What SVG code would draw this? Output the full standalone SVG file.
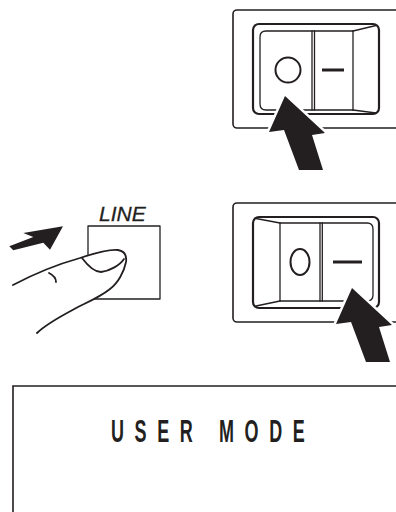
<svg xmlns="http://www.w3.org/2000/svg" width="396" height="512" viewBox="0 0 396 512">
  <style>
    .bezel { fill: #fff; stroke: #231f20; stroke-width: 1.6; }
    .frame { fill: none; stroke: #231f20; stroke-width: 2.2; }
    .thin { fill: none; stroke: #231f20; stroke-width: 1.3; stroke-linecap: round; stroke-linejoin: round; }
    .mark { fill: none; stroke: #231f20; stroke-width: 2; }
    .dash { stroke: #231f20; stroke-width: 3; }
    .push { fill: #231f20; stroke: #fff; stroke-width: 5; paint-order: stroke; stroke-linejoin: miter; }
    .skin { fill: none; stroke: #231f20; stroke-width: 1.8; stroke-linecap: round; stroke-linejoin: round; }
    .label { font-family: "Liberation Sans", Arial, sans-serif; fill: #231f20; }
  </style>
  <defs>
    <!-- push arrow, tip at the origin -->
    <path id="pushArrow" d="M0,0 L-16,36 L-1,34 L14,74 L38,74 L27,39 L40,37 Z"/>
  </defs>
  <rect width="396" height="512" fill="#fff"/>

  <!-- rocker switch, "O" side pressed -->
  <g id="switch-off">
    <rect class="bezel" x="233" y="10" width="200" height="118" rx="4"/>
    <rect class="frame" x="253" y="24" width="126" height="90" rx="6"/>
    <path class="thin" d="M353,31 H266 Q260,31 260,37 V104 Q260,110 266,110 H353"/>
    <path class="thin" d="M353,31 L376,25.5 M353,110 L376,113"/>
    <line class="thin" x1="312" y1="31" x2="312" y2="110"/>
    <line class="thin" x1="314.5" y1="31" x2="314.5" y2="110"/>
    <line class="thin" x1="353" y1="31" x2="353" y2="110"/>
    <circle class="mark" cx="288" cy="70" r="12.5"/>
    <line class="dash" x1="322" y1="70" x2="344" y2="70"/>
    <use href="#pushArrow" class="push" x="285" y="96"/>
  </g>

  <!-- LINE key with finger -->
  <g id="line-key">
    <text class="label" x="99" y="221" font-size="21" font-style="italic" stroke="#231f20" stroke-width="0.3">LINE</text>
    <rect class="thin" x="88" y="226" width="72" height="73" stroke-width="1.6"/>
    <path fill="#fff" d="M13,285 C30,276 55,265 80,258 C92,254 108,249 118,250 C124,251 127,255 126,262 C124,272 118,283 110,289 C100,297 88,302 78,307 C65,314 47,323 37,333 Z"/>
    <path class="skin" d="M13,285 C30,276 55,265 80,258 C92,254 108,249 118,250 C124,251 127,255 126,262 C124,272 118,283 110,289 C100,297 88,302 78,307 C65,314 47,323 37,333"/>
    <path class="skin" stroke-width="1.3" d="M82,258 C88,266 94,272 101,272 C110,271 120,265 124,259"/>
    <path class="skin" stroke-width="1.1" d="M49,273 C53,275 56,278 56,282"/>
    <path fill="#231f20" d="M63,226.3 L23.3,233 L33.3,237 L9.3,246.3 L13.3,250.3 L43.3,242.7 L50,249.7 Z"/>
  </g>

  <!-- rocker switch, "-" side pressed -->
  <g id="switch-on">
    <rect class="bezel" x="233" y="203" width="200" height="119" rx="4"/>
    <rect class="frame" x="253" y="217" width="126" height="91" rx="6"/>
    <path class="thin" d="M280,223 H367 Q373,223 373,229 V295 Q373,301 367,301 H280"/>
    <path class="thin" d="M256,218.5 L280,223 M256,306 L280,301"/>
    <line class="thin" x1="280" y1="223" x2="280" y2="301"/>
    <line class="thin" x1="320" y1="223" x2="320" y2="301"/>
    <line class="thin" x1="322.3" y1="223" x2="322.3" y2="301"/>
    <ellipse class="mark" cx="300" cy="262" rx="9.5" ry="13"/>
    <line class="dash" x1="333" y1="262" x2="362" y2="262"/>
    <use href="#pushArrow" class="push" x="352" y="288"/>
  </g>

  <!-- display panel -->
  <g id="display">
    <path class="bezel" fill="none" d="M400,386 H13 V516"/>
    <text class="label" transform="translate(111,442) scale(0.58,1)" font-size="31" font-weight="bold" textLength="334" lengthAdjust="spacing">USER MODE</text>
  </g>
</svg>
